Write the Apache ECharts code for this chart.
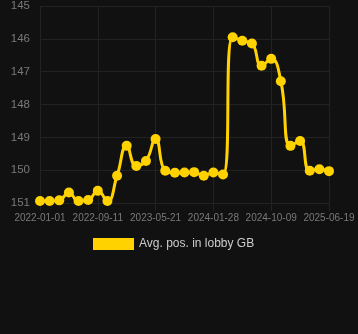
<!DOCTYPE html>
<html>
<head>
<meta charset="utf-8">
<style>
html,body{margin:0;padding:0;background:#111111;}
#chart{width:358px;height:334px;}
</style>
<script src="https://cdn.jsdelivr.net/npm/echarts@6/dist/echarts.min.js"></script>
</head>
<body>
<div id="chart"></div>
<script>
const dates = [
  '2022-01-01','2022-02-12','2022-03-26','2022-05-07','2022-06-18','2022-07-30',
  '2022-09-11','2022-10-23','2022-12-04','2023-01-15','2023-02-26','2023-04-09',
  '2023-05-21','2023-07-02','2023-08-13','2023-09-24','2023-11-05','2023-12-17',
  '2024-01-28','2024-03-10','2024-04-21','2024-06-02','2024-07-14','2024-08-26',
  '2024-10-09','2024-11-20','2025-01-01','2025-02-12','2025-03-26','2025-05-07',
  '2025-06-19'
];
const avgPos = [
  150.94,150.94,150.92,150.68,150.94,150.91,
  150.63,150.94,150.17,149.26,149.87,149.72,
  149.05,150.02,150.08,150.07,150.06,150.17,
  150.07,150.13,145.95,146.06,146.14,146.82,
  146.61,147.29,149.26,149.11,150.02,149.97,
  150.03
];
const seriesName = 'Avg. pos. in lobby GB';

const chart = echarts.init(document.getElementById('chart'), null, {renderer:'canvas'});
chart.setOption({
  backgroundColor: '#111111',
  animation: false,
  textStyle: {fontFamily: 'Liberation Sans, Arial, sans-serif'},
  grid: {left: 40, right: 29, top: 6, bottom: 131},
  legend: {
    data: [seriesName],
    top: 233, left: 88,
    itemWidth: 41, itemHeight: 12, itemGap: 10,
    icon: 'rect',
    textStyle: {color: '#cccccc', fontSize: 12, fontFamily: 'Liberation Sans, Arial, sans-serif'}
  },
  xAxis: {
    type: 'category',
    data: dates,
    boundaryGap: false,
    axisLine: {show: false},
    axisTick: {show: true, interval: 5, length: 8, lineStyle: {color: '#222222'}},
    axisLabel: {interval: 5, color: '#7a7a7a', fontSize: 10, margin: 10},
    splitLine: {show: true, interval: 5, lineStyle: {color: '#222222', width: 1}}
  },
  yAxis: {
    type: 'value',
    inverse: true,
    min: 145, max: 151, interval: 1,
    axisLine: {show: false},
    axisTick: {show: false},
    axisLabel: {color: '#7a7a7a', fontSize: 11.5, margin: 10},
    splitLine: {show: true, lineStyle: {color: '#222222', width: 1}}
  },
  series: [{
    name: seriesName,
    type: 'line',
    data: avgPos,
    smooth: true,
    showSymbol: true,
    showAllSymbol: true,
    symbol: 'circle',
    symbolSize: 10,
    lineStyle: {color: '#FFD200', width: 3},
    itemStyle: {color: '#FFD200'}
  }]
});
</script>
</body>
</html>
